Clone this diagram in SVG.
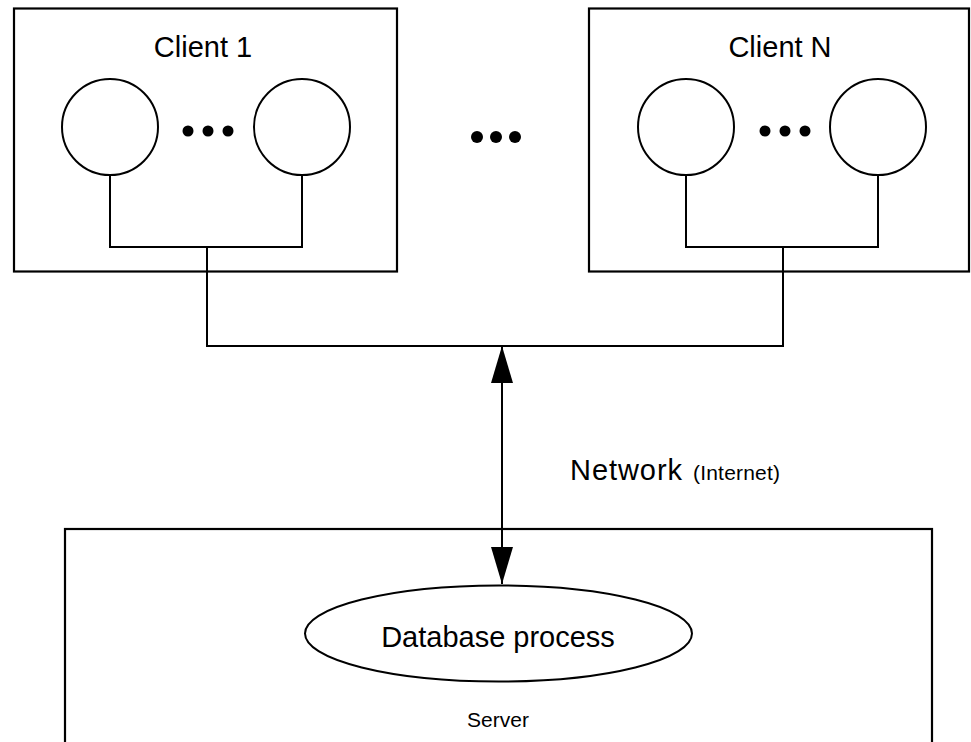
<svg xmlns="http://www.w3.org/2000/svg" width="971" height="742" viewBox="0 0 971 742">
  <style>
    .box { fill: #fff; stroke: #000; stroke-width: 2.2; }
    .proc { fill: #fff; stroke: #000; stroke-width: 2; }
    .wire { fill: none; stroke: #000; stroke-width: 2; }
    .dot { fill: #000; }
    .lbl { font-family: "Liberation Sans", Arial, sans-serif; fill: #000; text-anchor: middle; }
    .big { font-size: 29px; }
    .small { font-size: 21px; }
  </style>
  <defs>
    <marker id="arrow" viewBox="0 0 37 22" refX="37" refY="11" markerWidth="37" markerHeight="22" markerUnits="userSpaceOnUse" orient="auto-start-reverse">
      <path d="M0,0 L37,11 L0,22 Z" fill="#000"/>
    </marker>
  </defs>

  <rect x="0" y="0" width="971" height="742" fill="#fff"/>

  <!-- Server host (extends past the bottom edge) -->
  <g id="server">
    <rect class="box" x="65" y="529" width="867" height="240"/>
    <text class="lbl small" x="498" y="727">Server</text>
  </g>

  <g id="db-process">
    <ellipse class="proc" cx="498.5" cy="633.5" rx="193.5" ry="48"/>
    <text class="lbl big" x="498" y="647">Database process</text>
  </g>

  <!-- Client 1 -->
  <g id="client-1">
    <rect class="box" x="14" y="8.5" width="383" height="263"/>
    <text class="lbl big" x="203" y="57">Client 1</text>
    <circle class="proc" cx="110" cy="127" r="48"/>
    <circle class="proc" cx="302" cy="127" r="48"/>
    <circle class="dot" cx="188" cy="131" r="5.5"/>
    <circle class="dot" cx="208" cy="131" r="5.5"/>
    <circle class="dot" cx="228" cy="131" r="5.5"/>
  </g>

  <!-- Gap between clients -->
  <g id="more-clients">
    <circle class="dot" cx="477" cy="137" r="6"/>
    <circle class="dot" cx="496" cy="137" r="6"/>
    <circle class="dot" cx="515" cy="137" r="6"/>
  </g>

  <!-- Client N -->
  <g id="client-n">
    <rect class="box" x="589" y="8.5" width="380" height="263"/>
    <text class="lbl big" x="780" y="57">Client N</text>
    <circle class="proc" cx="686" cy="127" r="48"/>
    <circle class="proc" cx="878" cy="127" r="48"/>
    <circle class="dot" cx="765" cy="131" r="5.5"/>
    <circle class="dot" cx="785" cy="131" r="5.5"/>
    <circle class="dot" cx="805" cy="131" r="5.5"/>
  </g>

  <g id="network-label">
    <text class="lbl big" x="570" y="480" style="text-anchor:start" textLength="112">Network</text>
    <text class="lbl small" x="693" y="480" style="text-anchor:start" textLength="87">(Internet)</text>
  </g>

  <!-- Connectors -->
  <g id="connectors">
    <path class="wire" d="M110,175 V247 H302 V175"/>
    <path class="wire" d="M686,175 V247 H878 V175"/>
    <path class="wire" d="M207,247 V346 H783 V247"/>
    <line class="wire" x1="502" y1="346" x2="502" y2="584" marker-start="url(#arrow)" marker-end="url(#arrow)"/>
  </g>
</svg>
